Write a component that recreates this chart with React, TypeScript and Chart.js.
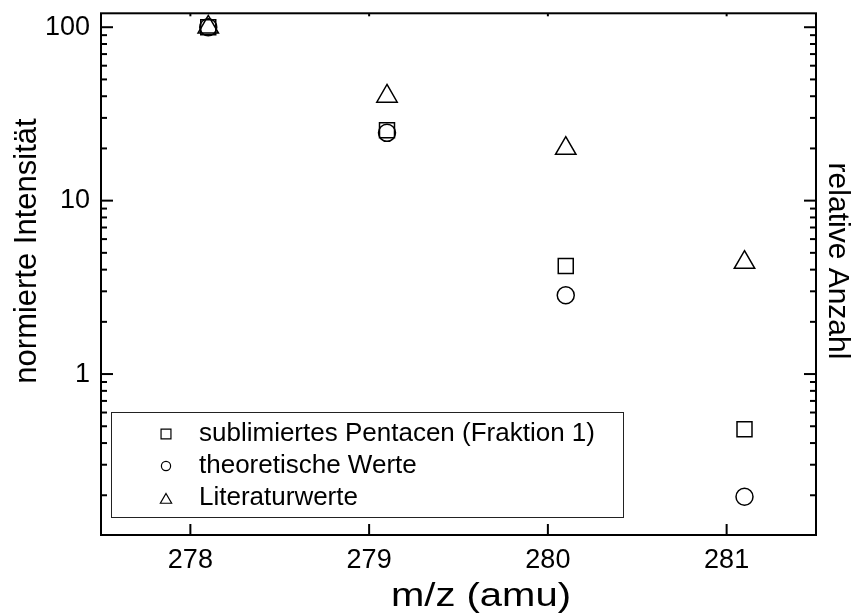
import React, { useEffect, useRef } from 'react';
import { Chart, registerables } from 'chart.js';

Chart.register(...registerables);

const X_POSITIONS = [278.1, 279.1, 280.1, 281.1];
const SUBLIMIERT = [100, 25.5, 4.2, 0.48];
const THEORETISCH = [100, 24.6, 2.85, 0.196];
const LITERATUR = [100, 40, 20, 4.4];
const X_TICKS = [278, 279, 280, 281];
const Y_TICKS = [1, 10, 100];
const SERIES_LABELS = ['sublimiertes Pentacen (Fraktion 1)', 'theoretische Werte', 'Literaturwerte'];
const X_TITLE = 'm/z (amu)';
const Y_TITLE = 'normierte Intensität';
const Y2_TITLE = 'relative Anzahl';

const FONT = "'Liberation Sans', Arial, sans-serif";

function line(ctx: CanvasRenderingContext2D, x1: number, y1: number, x2: number, y2: number) {
  ctx.beginPath();
  ctx.moveTo(x1, y1);
  ctx.lineTo(x2, y2);
  ctx.stroke();
}

function marker(ctx: CanvasRenderingContext2D, style: string, x: number, y: number, r: number) {
  ctx.beginPath();
  if (style === 'rect') {
    const s = r * Math.SQRT1_2;
    ctx.rect(x - s, y - s, 2 * s, 2 * s);
  } else if (style === 'circle') {
    ctx.arc(x, y, r, 0, Math.PI * 2);
  } else {
    let a = 0;
    ctx.moveTo(x + Math.sin(a) * r, y - Math.cos(a) * r);
    a += (2 * Math.PI) / 3;
    ctx.lineTo(x + Math.sin(a) * r, y - Math.cos(a) * r);
    a += (2 * Math.PI) / 3;
    ctx.lineTo(x + Math.sin(a) * r, y - Math.cos(a) * r);
    ctx.closePath();
  }
  ctx.stroke();
}

const framePlugin = {
  id: 'frameTicksLegend',
  afterDraw(chart: any) {
    const { ctx, chartArea: a, scales } = chart;
    ctx.save();
    ctx.strokeStyle = '#000';
    ctx.lineWidth = 2;
    ctx.strokeRect(a.left, a.top, a.right - a.left, a.bottom - a.top);
    X_TICKS.forEach((v) => {
      const px = scales.x.getPixelForValue(v);
      line(ctx, px, a.bottom, px, a.bottom - 11);
      line(ctx, px, a.top, px, a.top + 3);
    });
    const ys = scales.y;
    for (let d = -2; d <= 3; d++) {
      for (let m = 1; m <= 9; m++) {
        const v = m * Math.pow(10, d);
        if (v < ys.min || v > ys.max) continue;
        const py = ys.getPixelForValue(v);
        const len = m === 1 ? 12 : 6;
        line(ctx, a.left, py, a.left + len, py);
        line(ctx, a.right, py, a.right - len, py);
      }
    }

    // axis titles
    ctx.fillStyle = '#000';
    ctx.textAlign = 'center';
    ctx.textBaseline = 'alphabetic';
    ctx.font = `34px ${FONT}`;
    const w = ctx.measureText(X_TITLE).width;
    ctx.save();
    ctx.translate(481, 606);
    ctx.scale(Math.max(1, 180 / w), 1);
    ctx.fillText(X_TITLE, 0, 0);
    ctx.restore();

    ctx.font = `31px ${FONT}`;
    ctx.save();
    ctx.translate(36, 251);
    ctx.rotate(-Math.PI / 2);
    ctx.fillText(Y_TITLE, 0, 0);
    ctx.restore();

    ctx.font = `30px ${FONT}`;
    ctx.save();
    ctx.translate(829, 261);
    ctx.rotate(Math.PI / 2);
    ctx.fillText(Y2_TITLE, 0, 0);
    ctx.restore();

    // legend
    ctx.lineWidth = 1;
    ctx.strokeStyle = '#222';
    ctx.strokeRect(111.5, 412.5, 512, 105);
    const styles = ['rect', 'circle', 'triangle'];
    const radii = [7, 4.6, 6.5];
    const rows = [434, 466, 498];
    ctx.font = `26px ${FONT}`;
    ctx.textAlign = 'left';
    ctx.textBaseline = 'middle';
    ctx.lineWidth = 1.2;
    ctx.strokeStyle = '#000';
    SERIES_LABELS.forEach((label, i) => {
      const yy = styles[i] === 'triangle' ? rows[i] + 2 : rows[i];
      marker(ctx, styles[i], 166, yy, radii[i]);
      ctx.fillText(label, 199, rows[i]);
    });
    ctx.restore();
  },
};

export default function App() {
  const ref = useRef<HTMLCanvasElement | null>(null);
  useEffect(() => {
    document.body.style.margin = '0';
    const canvas = ref.current;
    if (!canvas) return;
    const mk = (vals: number[]) => X_POSITIONS.map((x, i) => ({ x, y: vals[i] }));
    const common = {
      showLine: false,
      borderColor: '#000',
      backgroundColor: 'rgba(0,0,0,0)',
      borderWidth: 1.5,
    };
    const noPad = (s: any) => {
      s.paddingTop = 0;
      s.paddingBottom = 0;
    };
    const chart = new Chart(canvas, {
      type: 'scatter',
      data: {
        datasets: [
          { ...common, label: SERIES_LABELS[0], data: mk(SUBLIMIERT), pointStyle: 'rect', pointRadius: 10.6 },
          { ...common, label: SERIES_LABELS[1], data: mk(THEORETISCH), pointStyle: 'circle', pointRadius: 8.5 },
          { ...common, label: SERIES_LABELS[2], data: mk(LITERATUR), pointStyle: 'triangle', pointRadius: 11.8 },
        ],
      },
      options: {
        responsive: false,
        animation: false,
        layout: { padding: { top: 10, left: 0, right: 0, bottom: 0 } },
        plugins: { legend: { display: false }, tooltip: { enabled: false } },
        scales: {
          x: {
            type: 'linear',
            position: 'bottom',
            min: 277.5,
            max: 281.5,
            grid: { display: false, drawTicks: false },
            border: { display: false },
            afterBuildTicks: (s: any) => { s.ticks = X_TICKS.map((v) => ({ value: v })); },
            afterFit: (s: any) => { s.height = 81; s.paddingLeft = 0; s.paddingRight = 0; },
            ticks: { color: '#000', padding: 9, font: { family: FONT, size: 27 }, callback: (v: any) => String(v) },
          },
          y: {
            type: 'logarithmic',
            position: 'left',
            min: 0.118,
            max: 120.3,
            grid: { display: false, drawTicks: false },
            border: { display: false },
            afterBuildTicks: (s: any) => { s.ticks = Y_TICKS.map((v) => ({ value: v })); },
            afterFit: (s: any) => { s.width = 101; noPad(s); },
            ticks: { color: '#000', padding: 11, font: { family: FONT, size: 27 }, callback: (v: any) => String(v) },
          },
          y2: {
            type: 'logarithmic',
            position: 'right',
            min: 0.118,
            max: 120.3,
            grid: { display: false, drawTicks: false },
            border: { display: false },
            ticks: { display: false },
            afterFit: (s: any) => { s.width = 46; noPad(s); },
          },
        },
      },
      plugins: [framePlugin],
    });
    return () => chart.destroy();
  }, []);
  return (
    <div style={{ width: 862, height: 616, background: '#fff' }}>
      <canvas ref={ref} width={862} height={616} />
    </div>
  );
}
